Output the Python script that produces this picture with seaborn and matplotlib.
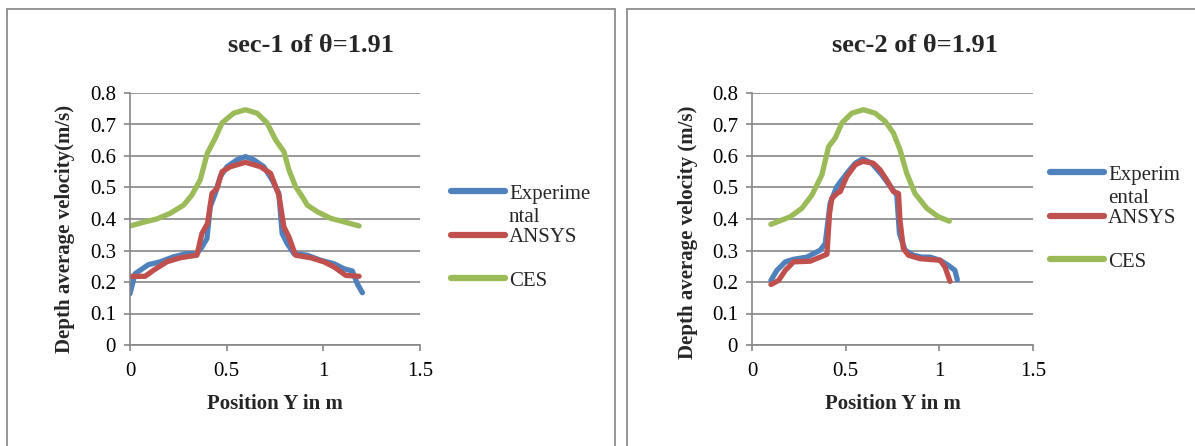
import matplotlib
matplotlib.use("Agg")
import matplotlib.pyplot as plt
import matplotlib.patches as mpatches
from matplotlib.ticker import FuncFormatter, MultipleLocator
import seaborn as sns
import pandas as pd

sns.set_style("white")
plt.rcParams['font.family'] = ['Liberation Serif', 'DejaVu Serif']

# sec-1 of theta=1.91
exp1_x = [0, 0.026, 0.052, 0.095, 0.156, 0.225, 0.294, 0.346, 0.372, 0.398, 0.415, 0.441, 0.467,
          0.502, 0.554, 0.597, 0.64, 0.692, 0.735, 0.77, 0.787, 0.813, 0.848, 0.917, 0.986,
          1.055, 1.107, 1.15, 1.176, 1.202]
exp1_y = [0.163, 0.226, 0.237, 0.255, 0.264, 0.28, 0.29, 0.29, 0.311, 0.338, 0.439, 0.481, 0.535,
          0.566, 0.588, 0.598, 0.588, 0.566, 0.524, 0.481, 0.354, 0.322, 0.29, 0.285, 0.269,
          0.258, 0.242, 0.235, 0.194, 0.166]
ans1_x = [0, 0.078, 0.121, 0.19, 0.26, 0.346, 0.372, 0.401, 0.424, 0.45, 0.476, 0.519, 0.597,
          0.675, 0.727, 0.77, 0.796, 0.822, 0.856, 0.934, 1.003, 1.055, 1.116, 1.185]
ans1_y = [0.218, 0.218, 0.237, 0.264, 0.277, 0.285, 0.354, 0.386, 0.481, 0.497, 0.55, 0.566, 0.58,
          0.566, 0.545, 0.476, 0.375, 0.343, 0.285, 0.277, 0.264, 0.248, 0.221, 0.218]
ces1_x = [0, 0.078, 0.138, 0.208, 0.277, 0.32, 0.363, 0.40, 0.441, 0.476, 0.536, 0.597, 0.657,
          0.709, 0.753, 0.796, 0.822, 0.856, 0.891, 0.917, 0.969, 1.038, 1.107, 1.185]
ces1_y = [0.378, 0.391, 0.40, 0.418, 0.444, 0.476, 0.524, 0.609, 0.657, 0.705, 0.736, 0.747, 0.736,
          0.705, 0.651, 0.614, 0.556, 0.503, 0.471, 0.444, 0.423, 0.402, 0.391, 0.378]

# sec-2 of theta=1.91
exp2_x = [0.101, 0.133, 0.178, 0.222, 0.293, 0.364, 0.391, 0.417, 0.453, 0.506, 0.551, 0.591,
          0.639, 0.693, 0.746, 0.773, 0.787, 0.817, 0.861, 0.906, 0.95, 1.004, 1.048, 1.083, 1.096]
exp2_y = [0.205, 0.237, 0.264, 0.272, 0.279, 0.301, 0.322, 0.45, 0.503, 0.545, 0.577, 0.591,
          0.577, 0.54, 0.497, 0.476, 0.354, 0.301, 0.285, 0.279, 0.279, 0.269, 0.253, 0.237, 0.207]
ans2_x = [0.101, 0.142, 0.178, 0.222, 0.311, 0.355, 0.4, 0.414, 0.426, 0.453, 0.471, 0.506, 0.551,
          0.591, 0.648, 0.684, 0.719, 0.755, 0.782, 0.79, 0.808, 0.835, 0.897, 1.004, 1.03, 1.057]
ans2_y = [0.192, 0.205, 0.237, 0.264, 0.266, 0.277, 0.288, 0.418, 0.465, 0.481, 0.487, 0.535, 0.572,
          0.583, 0.577, 0.556, 0.524, 0.487, 0.481, 0.396, 0.306, 0.285, 0.274, 0.269, 0.248, 0.202]
ces2_x = [0.101, 0.204, 0.266, 0.32, 0.373, 0.409, 0.444, 0.48, 0.533, 0.595, 0.657, 0.711,
          0.755, 0.79, 0.826, 0.87, 0.933, 0.995, 1.053]
ces2_y = [0.383, 0.407, 0.434, 0.476, 0.54, 0.63, 0.657, 0.705, 0.736, 0.747, 0.736, 0.71,
          0.673, 0.62, 0.545, 0.481, 0.434, 0.407, 0.393]

series = ['Experimental', 'ANSYS', 'CES']
colors = {'Experimental': '#4F81BD', 'ANSYS': '#C0504D', 'CES': '#9BBB59'}
titles = ['sec-1 of \u03b8=1.91', 'sec-2 of \u03b8=1.91']
ylabels = ['Depth average velocity(m/s)', 'Depth average velocity (m/s)']
# Excel wrapped the long legend entry over two lines
legend_first = ['Experime', 'Experim']
legend_wrap = ['ntal', 'ental']


def make_df(xs, ys):
    frames = []
    for name, x, y in zip(series, xs, ys):
        frames.append(pd.DataFrame({'Y': x, 'V': y, 'series': name}))
    return pd.concat(frames, ignore_index=True)


df1 = make_df([exp1_x, ans1_x, ces1_x], [exp1_y, ans1_y, ces1_y])
df2 = make_df([exp2_x, ans2_x, ces2_x], [exp2_y, ans2_y, ces2_y])

W, H = 1195, 446
fig = plt.figure(figsize=(W / 100, H / 100), dpi=100)

GRID = '#868686'
panels = [
    dict(df=df1, ax=(130, 93, 290, 252), box=(7, 615), title_x=311,
         leg=(451, 184), ylab=(-0.19, 0.462)),
    dict(df=df2, ax=(752, 93, 281, 252), box=(627, 1203), title_x=915,
         leg=(1050, 165), ylab=(-0.192, 0.448)),
]

legends = []
for i, p in enumerate(panels):
    # outer frame
    x0, x1 = p['box']
    fig.add_artist(mpatches.Rectangle((x0 / W, -0.1), (x1 - x0) / W, 1.1 - 9 / H,
                                      transform=fig.transFigure, fill=False,
                                      edgecolor='#8c8c8c', linewidth=1.3))
    l, t, w, h = p['ax']
    ax = fig.add_axes([l / W, 1 - (t + h) / H, w / W, h / H])
    sns.lineplot(data=p['df'], x='Y', y='V', hue='series', hue_order=series,
                 palette=colors, sort=False, estimator=None, linewidth=3.8,
                 legend=False, ax=ax)
    for ln in ax.get_lines():
        ln.set_solid_capstyle('round')
        ln.set_solid_joinstyle('round')

    ax.set_xlim(0, 1.5)
    ax.set_ylim(0, 0.8)
    ax.xaxis.set_major_locator(MultipleLocator(0.5))
    ax.yaxis.set_major_locator(MultipleLocator(0.1))
    fmt = FuncFormatter(lambda v, pos: '%g' % round(v, 2))
    ax.xaxis.set_major_formatter(fmt)
    ax.yaxis.set_major_formatter(fmt)
    ax.grid(axis='y', color=GRID, linewidth=1.2)
    ax.set_axisbelow(True)
    for s in ['top', 'right']:
        ax.spines[s].set_visible(False)
    for s in ['left', 'bottom']:
        ax.spines[s].set_color(GRID)
        ax.spines[s].set_linewidth(1.2)
    ax.tick_params(axis='both', which='major', direction='out', length=4, width=1.2,
                   color=GRID, labelsize=15, labelcolor='black')
    ax.tick_params(axis='x', pad=8, bottom=True)
    ax.tick_params(axis='y', pad=6, left=True)

    ax.set_xlabel('Position Y in m', fontsize=15, fontweight='bold')
    ax.xaxis.set_label_coords(0.5, -0.196)
    ax.xaxis.label.set_va('top')
    ax.set_ylabel(ylabels[i], fontsize=15, fontweight='bold')
    ax.yaxis.set_label_coords(*p['ylab'])

    fig.text(p['title_x'] / W, 1 - 45 / H, titles[i], fontsize=19, fontweight='bold',
             ha='center', va='center')

    labels = [legend_first[i], 'ANSYS', 'CES']
    lx, ly = p['leg']
    leg = ax.legend(ax.get_lines(), labels, loc='upper left',
                    bbox_to_anchor=(lx / W, 1 - ly / H), bbox_transform=fig.transFigure,
                    frameon=False, fontsize=15, handlelength=2.6, handletextpad=0.18,
                    labelspacing=1.15, borderpad=0, borderaxespad=0)
    for lh in leg.get_lines():
        lh.set_linewidth(4.5)
        lh.set_solid_capstyle('round')
    legends.append(leg)

# second line of the wrapped legend label, placed under the first one
fig.canvas.draw()
for i, leg in enumerate(legends):
    bb = leg.get_texts()[0].get_window_extent()
    fig.text(bb.x0 / W, (bb.y0 - 23) / H, legend_wrap[i], fontsize=15,
             ha='left', va='bottom')

fig.savefig('out.png', dpi=100)
